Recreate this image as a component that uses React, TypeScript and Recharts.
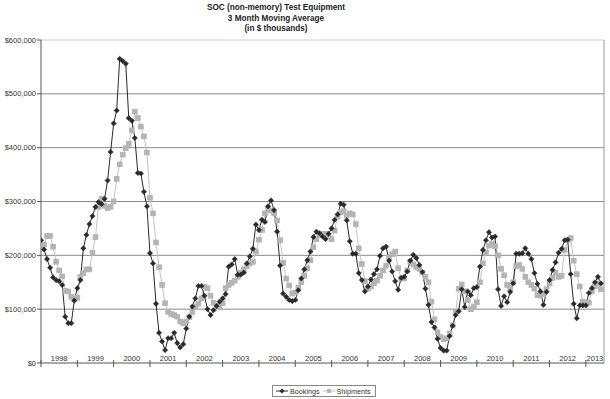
import React from "react";
import { LineChart, Line, XAxis, YAxis, ReferenceLine } from "recharts";

// monthly 3-month moving averages, Jan 1998 .. Jun 2013, values in $ thousands / 1000
const bookings = [
  228, 211, 193, 177, 159, 154, 152, 145, 86, 74, 74, 116, // 1998
  139, 154, 213, 238, 258, 273, 290, 299, 295, 305, 339, 392, // 1999
  445, 469, 565, 561, 556, 455, 450, 418, 353, 352, 318, 291, // 2000
  204, 185, 110, 56, 40, 24, 46, 46, 56, 37, 29, 35, // 2001
  64, 86, 105, 120, 143, 143, 125, 100, 89, 98, 106, 114, // 2002
  120, 128, 179, 183, 193, 164, 164, 168, 185, 198, 212, 257, // 2003
  247, 266, 262, 291, 302, 284, 244, 181, 129, 123, 117, 115, // 2004
  117, 135, 157, 174, 191, 207, 234, 244, 241, 235, 230, 240, // 2005
  250, 266, 276, 296, 294, 265, 226, 203, 203, 167, 154, 133, // 2006
  142, 155, 165, 174, 199, 213, 216, 190, 170, 152, 136, 158, // 2007
  160, 170, 190, 201, 195, 182, 169, 138, 108, 76, 66, 45, // 2008
  28, 23, 23, 50, 69, 89, 96, 137, 104, 133, 126, 139, // 2009
  141, 179, 210, 228, 243, 233, 235, 137, 106, 124, 113, 132, // 2010
  148, 203, 203, 204, 213, 203, 193, 167, 147, 133, 108, 132, // 2011
  154, 173, 187, 205, 212, 228, 229, 165, 110, 83, 107, 107, // 2012
  107, 130, 139, 150, 160, 148, // 2013
];

const shipments = [
  219, 220, 236, 236, 216, 188, 172, 161, 134, 133, 123, 119, // 1998
  121, 160, 167, 174, 174, 205, 234, 290, 305, 292, 288, 290, // 1999
  300, 342, 369, 387, 399, 407, 432, 467, 455, 439, 421, 391, // 2000
  307, 278, 224, 178, 145, 111, 95, 91, 89, 86, 77, 74, // 2001
  77, 85, 95, 105, 110, 120, 142, 139, 125, 112, 104, 106, // 2002
  111, 139, 145, 149, 153, 160, 168, 174, 180, 185, 188, 207, // 2003
  229, 247, 278, 286, 283, 278, 265, 228, 186, 157, 144, 129, // 2004
  131, 140, 150, 162, 176, 191, 215, 230, 238, 240, 240, 236, // 2005
  230, 246, 272, 280, 282, 274, 278, 276, 258, 213, 184, 152, // 2006
  138, 142, 148, 153, 162, 172, 181, 196, 202, 207, 176, 157, // 2007
  157, 172, 188, 183, 178, 175, 168, 160, 150, 114, 81, 57, // 2008
  48, 44, 46, 55, 70, 95, 138, 146, 133, 117, 100, 105, // 2009
  113, 150, 185, 205, 218, 222, 217, 200, 175, 163, 145, 139, // 2010
  150, 180, 182, 175, 160, 150, 145, 138, 126, 125, 128, 137, // 2011
  148, 158, 168, 160, 162, 210, 228, 232, 190, 165, 142, 114, // 2012
  112, 112, 133, 143, 148, 137, // 2013
];

const years = [
  "1998", "1999", "2000", "2001", "2002", "2003", "2004", "2005",
  "2006", "2007", "2008", "2009", "2010", "2011", "2012", "2013",
];
const yTicks = [0, 100, 200, 300, 400, 500, 600];
const gridValues = [100, 200, 300, 400, 500];

const N_MONTHS = 186;
const W = 610;
const H = 399;
const MARGIN = { top: 40, right: 6, bottom: 0, left: 0 };
const Y_AXIS_W = 41;
const X_AXIS_H = 36;
const FONT = "'Liberation Sans', Arial, sans-serif";

const pxPerMonth = (W - Y_AXIS_W - MARGIN.right) / N_MONTHS;

const data = bookings.map((b, i) => ({
  m: i,
  bookings: b,
  shipments: shipments[i],
}));

const yearTicks = years.map((_, k) => k * 12);

function YearTick(props: any) {
  const { x, y, payload } = props;
  const v = payload.value as number;
  const k = Math.round(v / 12);
  const span = Math.min(12, N_MONTHS - v);
  return (
    <g>
      <line x1={x} x2={x} y1={y - 3} y2={y + 4} stroke="#555" strokeWidth={1} />
      <text
        x={x + (span / 2) * pxPerMonth}
        y={y - 2}
        textAnchor="middle"
        fontSize={7.5}
        fontFamily={FONT}
        fill="#333"
      >
        {years[k]}
      </text>
    </g>
  );
}

function Diamond(props: any) {
  const { cx, cy, index } = props;
  if (cx == null || cy == null) return <g key={index} />;
  const r = 2.6;
  return (
    <path
      key={index}
      d={`M${cx},${cy - r}L${cx + r},${cy}L${cx},${cy + r}L${cx - r},${cy}Z`}
      fill="#2a2a2a"
      stroke="#2a2a2a"
      strokeWidth={0.6}
    />
  );
}

function Square(props: any) {
  const { cx, cy, index } = props;
  if (cx == null || cy == null) return <g key={index} />;
  const r = 2.3;
  return (
    <rect
      key={index}
      x={cx - r}
      y={cy - r}
      width={r * 2}
      height={r * 2}
      fill="#b4b4b4"
      stroke="#b4b4b4"
    />
  );
}

function LegendBox() {
  const item = (label: string, color: string, marker: React.ReactNode) => (
    <span style={{ display: "inline-flex", alignItems: "center", marginRight: 2 }}>
      <svg width={14} height={8}>
        <line x1={1} x2={13} y1={4} y2={4} stroke={color} strokeWidth={1} />
        {marker}
      </svg>
      <span style={{ marginLeft: 1 }}>{label}</span>
    </span>
  );
  return (
    <div
      style={{
        position: "absolute",
        left: 272,
        top: 385,
        display: "inline-flex",
        alignItems: "center",
        border: "1px solid #888",
        padding: "0px 2px",
        height: 10,
        fontSize: 7.2,
        fontFamily: FONT,
        color: "#333",
        background: "#fff",
      }}
    >
      {item("Bookings", "#2a2a2a", <path d="M7,1.5L9.5,4L7,6.5L4.5,4Z" fill="#2a2a2a" />)}
      {item("Shipments", "#c4c4c4", <rect x={5} y={2} width={4} height={4} fill="#b4b4b4" />)}
    </div>
  );
}

export default function App() {
  return (
    <div style={{ position: "absolute", left: 0, top: 0, width: W, height: H, background: "#fff" }}>
      <div
        style={{
          position: "absolute",
          left: 0,
          width: 552,
          top: 3,
          textAlign: "center",
          fontFamily: FONT,
          fontWeight: "bold",
          fontSize: 8.2,
          lineHeight: "10.5px",
          color: "#222",
        }}
      >
        <div>SOC (non-memory) Test Equipment</div>
        <div>3 Month Moving Average</div>
        <div>(in $ thousands)</div>
      </div>
      <LineChart width={W} height={H} data={data} margin={MARGIN}>
        <XAxis
          dataKey="m"
          type="number"
          domain={[0, N_MONTHS]}
          ticks={yearTicks}
          interval={0}
          height={X_AXIS_H}
          tickSize={0}
          tickMargin={0}
          tick={<YearTick />}
          axisLine={{ stroke: "#555" }}
          tickLine={false}
          allowDataOverflow
        />
        <YAxis
          domain={[0, 600]}
          ticks={yTicks}
          width={Y_AXIS_W}
          tickSize={4}
          tickMargin={1}
          interval={0}
          tickFormatter={(v: number) => `$${(v * 1000).toLocaleString("en-US")}`}
          tick={{ fontSize: 7.5, fill: "#333", fontFamily: FONT }}
          axisLine={{ stroke: "#555" }}
          tickLine={{ stroke: "#555" }}
        />
        {gridValues.map((g) => (
          <ReferenceLine key={g} y={g} stroke="#8a8a8a" strokeWidth={1} />
        ))}
        <ReferenceLine y={600} stroke="#cfcfcf" strokeWidth={1} />
        <ReferenceLine x={N_MONTHS} stroke="#9a9a9a" strokeWidth={1} />
        <Line
          dataKey="shipments"
          name="Shipments"
          stroke="#c4c4c4"
          strokeWidth={1}
          dot={(p: any) => <Square {...p} key={p.index} />}
          isAnimationActive={false}
          type="linear"
        />
        <Line
          dataKey="bookings"
          name="Bookings"
          stroke="#2a2a2a"
          strokeWidth={1}
          dot={(p: any) => <Diamond {...p} key={p.index} />}
          isAnimationActive={false}
          type="linear"
        />
      </LineChart>
      <LegendBox />
    </div>
  );
}
